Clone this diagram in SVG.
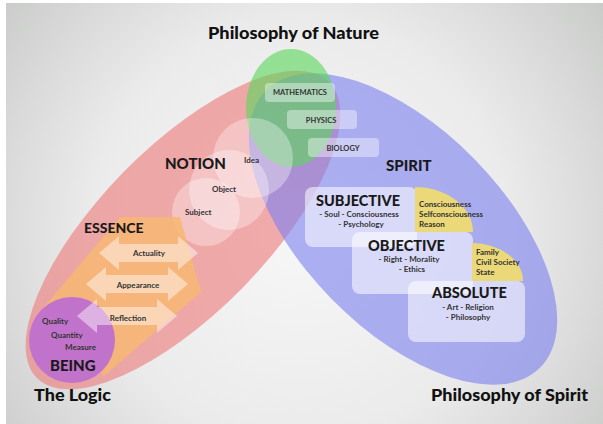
<svg xmlns="http://www.w3.org/2000/svg" width="603" height="424" viewBox="0 0 603 424">
  <defs>
    <radialGradient id="bgGrad" cx="300" cy="230" r="380" gradientUnits="userSpaceOnUse">
      <stop offset="0" stop-color="#f7f7f7"/>
      <stop offset="0.55" stop-color="#ebebeb"/>
      <stop offset="1" stop-color="#c9cbc9"/>
    </radialGradient>
  </defs>
  <style>
    .title { font-family: "Lato", "Liberation Sans", sans-serif; font-weight: 900; fill: #111; }
    .head { font-family: "Lato", "Liberation Sans", sans-serif; font-weight: 900; fill: #1a1a1a; }
    .small { font-family: "Lato", "Liberation Sans", sans-serif; font-weight: 700; fill: #333; font-size: 8px; }
    .tiny { font-family: "Lato", "Liberation Sans", sans-serif; font-weight: 700; fill: #333; font-size: 7.5px; }
    .glass { fill: #ffffff; fill-opacity: 0.4; }
    .card { fill: #ffffff; fill-opacity: 0.55; }
    .circ { fill: #ffffff; fill-opacity: 0.33; }
    .arrow { fill: #ffffff; fill-opacity: 0.45; }
    .gold { fill: #ead879; }
  </style>

  <!-- backdrop -->
  <rect x="0" y="0" width="603" height="424" fill="#ffffff"/>
  <rect x="6" y="3" width="597" height="421" fill="url(#bgGrad)"/>

  <!-- three overlapping fields -->
  <g id="logic-field">
    <ellipse cx="183" cy="230" rx="208" ry="83" transform="rotate(-45.5 183 230)" fill="#ee7f7f" fill-opacity="0.64"/>
  </g>
  <g id="spirit-field">
    <ellipse cx="403" cy="229" rx="195" ry="100" transform="rotate(45.5 403 229)" fill="#7b7ff0" fill-opacity="0.6"/>
  </g>
  <g id="nature-field">
    <ellipse cx="291" cy="108" rx="45" ry="59" fill="#5cd65c" fill-opacity="0.62"/>
  </g>

  <!-- Philosophy of Nature -->
  <g id="mathematics">
    <rect class="glass" x="265" y="83" width="70" height="19" rx="4"/>
    <text class="tiny" x="300" y="95" text-anchor="middle">MATHEMATICS</text>
  </g>
  <g id="physics">
    <rect class="glass" x="287" y="110" width="70" height="19" rx="4"/>
    <text class="tiny" x="321" y="123" text-anchor="middle">PHYSICS</text>
  </g>
  <g id="biology">
    <rect class="glass" x="308" y="138" width="71" height="19" rx="4"/>
    <text class="tiny" x="343" y="151" text-anchor="middle">BIOLOGY</text>
  </g>

  <!-- Notion -->
  <g id="notion">
    <circle class="circ" cx="253" cy="158" r="40"/>
    <circle class="circ" cx="229" cy="190" r="40"/>
    <circle class="circ" cx="206" cy="212" r="34"/>
    <text class="head" x="165" y="169" font-size="15">NOTION</text>
    <text class="small" x="244" y="163">Idea</text>
    <text class="small" x="212" y="192">Object</text>
    <text class="small" x="185" y="215">Subject</text>
  </g>

  <!-- Essence -->
  <g id="essence">
    <polygon points="40,312 120,217 180,217 201,292 104,376" fill="#f7b772" fill-opacity="0.85"/>
    <text class="head" x="84" y="233" font-size="14">ESSENCE</text>
  </g>

  <!-- Being -->
  <g id="being">
    <circle cx="72" cy="340" r="43" fill="#c173cb"/>
    <text class="small" x="42" y="324">Quality</text>
    <text class="small" x="51" y="338">Quantity</text>
    <text class="small" x="65" y="350">Measure</text>
    <text class="head" x="50" y="371" font-size="15">BEING</text>
  </g>

  <!-- double arrows of essence -->
  <g id="actuality">
    <polygon class="arrow" points="99,253 119,236 119,244 178,244 178,236 198,253 178,270 178,262 119,262 119,270"/>
    <text class="small" x="149" y="256" text-anchor="middle">Actuality</text>
  </g>
  <g id="appearance">
    <polygon class="arrow" points="86,284 106,267 106,275 168,275 168,267 188,284 168,301 168,293 106,293 106,301"/>
    <text class="small" x="138" y="288" text-anchor="middle">Appearance</text>
  </g>
  <g id="reflection">
    <polygon class="arrow" points="77,316 97,299 97,307 157,307 157,299 177,316 157,333 157,325 97,325 97,333"/>
    <text class="small" x="128" y="321" text-anchor="middle">Reflection</text>
  </g>

  <!-- Spirit -->
  <g id="spirit">
    <text class="head" x="386" y="171" font-size="15">SPIRIT</text>
  </g>
  <g id="subjective">
    <rect class="card" x="305" y="187" width="112" height="60" rx="8"/>
    <path class="gold" d="M415,232 V187 A58,45 0 0 1 473,232 Z"/>
    <text class="head" x="316" y="206" font-size="14.5">SUBJECTIVE</text>
    <text class="small" x="359" y="217" text-anchor="middle">- Soul - Consciousness</text>
    <text class="small" x="361" y="227" text-anchor="middle">- Psychology</text>
    <text class="small" x="419" y="207">Consciousness</text>
    <text class="small" x="419" y="217">Selfconsciousness</text>
    <text class="small" x="419" y="227">Reason</text>
  </g>
  <g id="objective">
    <rect class="card" x="352" y="232" width="121" height="62" rx="8"/>
    <path class="gold" d="M472,281 V243 A51,38 0 0 1 523,281 Z"/>
    <text class="head" x="368" y="251" font-size="14.5">OBJECTIVE</text>
    <text class="small" x="409" y="262" text-anchor="middle">- Right - Morality</text>
    <text class="small" x="412" y="272" text-anchor="middle">- Ethics</text>
    <text class="small" x="476" y="255">Family</text>
    <text class="small" x="476" y="265">Civil Society</text>
    <text class="small" x="476" y="275">State</text>
  </g>
  <g id="absolute">
    <rect class="card" x="408" y="281" width="117" height="61" rx="8"/>
    <text class="head" x="432" y="298" font-size="14.5">ABSOLUTE</text>
    <text class="small" x="468" y="310" text-anchor="middle">- Art - Religion</text>
    <text class="small" x="468" y="320" text-anchor="middle">- Philosophy</text>
  </g>

  <!-- section titles -->
  <g id="titles">
    <text class="title" x="208" y="39" font-size="17" textLength="171" lengthAdjust="spacingAndGlyphs">Philosophy of Nature</text>
    <text class="title" x="34" y="401" font-size="17" textLength="77" lengthAdjust="spacingAndGlyphs">The Logic</text>
    <text class="title" x="431" y="401" font-size="17" textLength="157" lengthAdjust="spacingAndGlyphs">Philosophy of Spirit</text>
  </g>

  <g id="connectors"></g>
</svg>
